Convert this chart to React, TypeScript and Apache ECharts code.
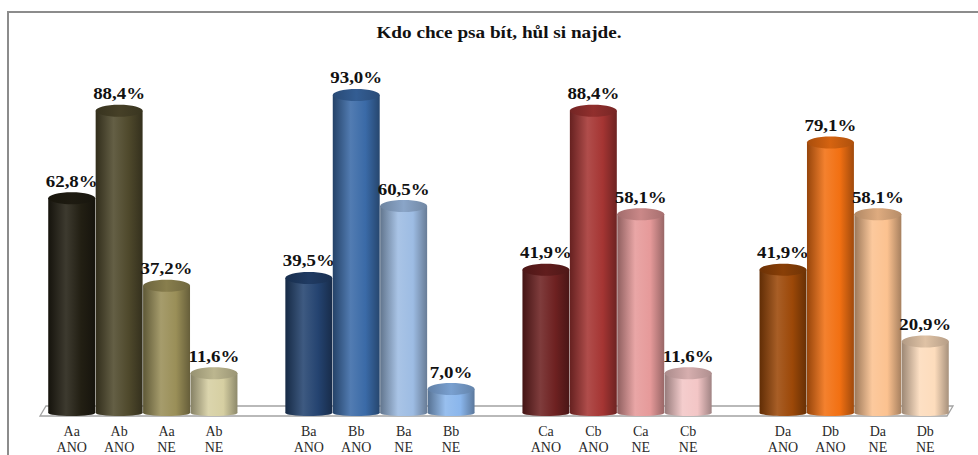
import React, { useEffect, useRef } from "react";
import * as echarts from "echarts";

// Slots along the x axis; empty strings are spacers between the four groups.
const categories: string[] = [
  "Aa\nANO", "Ab\nANO", "Aa\nNE", "Ab\nNE", "",
  "Ba\nANO", "Bb\nANO", "Ba\nNE", "Bb\nNE", "",
  "Ca\nANO", "Cb\nANO", "Ca\nNE", "Cb\nNE", "",
  "Da\nANO", "Db\nANO", "Da\nNE", "Db\nNE",
];

// Percentages per slot (null = spacer).
const values: (number | null)[] = [
  62.8, 88.4, 37.2, 11.6, null,
  39.5, 93.0, 60.5, 7.0, null,
  41.9, 88.4, 58.1, 11.6, null,
  41.9, 79.1, 58.1, 20.9,
];

const barColors: string[] = [
  "#221f13", "#4f492c", "#9a8f58", "#d6cfa2", "#ffffff",
  "#244370", "#3a6aa7", "#9dbce3", "#8ab6ec", "#ffffff",
  "#6e2121", "#a53533", "#e69a9a", "#f3c6c6", "#ffffff",
  "#9c4808", "#f27012", "#fcc290", "#fddcbc",
];

const TITLE = "Kdo chce psa bít, hůl si najde.";
const SERIF = "'Liberation Serif', 'Times New Roman', serif";

function shade(hex: string, f: number): string {
  const n = parseInt(hex.slice(1), 16);
  let r = (n >> 16) & 255, g = (n >> 8) & 255, b = n & 255;
  if (f <= 1) {
    r = r * f; g = g * f; b = b * f;
  } else {
    const t = f - 1;
    r = r + (255 - r) * t; g = g + (255 - g) * t; b = b + (255 - b) * t;
  }
  const c = (v: number) => Math.max(0, Math.min(255, Math.round(v))).toString(16).padStart(2, "0");
  return "#" + c(r) + c(g) + c(b);
}

function bodyGradient(c: string) {
  return new echarts.graphic.LinearGradient(0, 0, 1, 0, [
    { offset: 0, color: shade(c, 0.62) },
    { offset: 0.38, color: shade(c, 1.12) },
    { offset: 0.7, color: c },
    { offset: 1, color: shade(c, 0.66) },
  ]);
}

function topGradient(c: string) {
  return new echarts.graphic.LinearGradient(0, 0, 1, 0, [
    { offset: 0, color: shade(c, 0.7) },
    { offset: 0.5, color: shade(c, 0.88) },
    { offset: 1, color: shade(c, 0.72) },
  ]);
}

const fmt = (v: number) => v.toFixed(1).replace(".", ",") + "%";

export default function App() {
  const ref = useRef<HTMLDivElement>(null);

  useEffect(() => {
    if (!ref.current) return;
    const chart = echarts.init(ref.current, undefined, { renderer: "svg" });

    const barData = values.map((v, i) => [i, v]);

    chart.setOption({
      animation: false,
      backgroundColor: "#ffffff",
      grid: { left: 48, right: 29, top: 71, bottom: 41, containLabel: false },
      xAxis: {
        type: "category",
        data: categories,
        axisLine: { show: false },
        axisTick: { show: false },
        axisLabel: {
          interval: 0,
          margin: 10,
          fontFamily: SERIF,
          fontSize: 14,
          lineHeight: 16,
          color: "#2a2a2a",
        },
        splitLine: { show: false },
      },
      yAxis: {
        type: "value",
        min: 0,
        max: 100,
        show: false,
      },
      graphic: [
        {
          type: "rect",
          shape: { x: 8, y: 12, width: 1000, height: 500 },
          style: { fill: "none", stroke: "#8c8c8c", lineWidth: 2 },
          z: 0,
        },
        {
          type: "text",
          x: 499,
          y: 33,
          scaleX: 1.2,
          style: {
            text: TITLE,
            font: `bold 16px ${SERIF}`,
            fill: "#111111",
            align: "center",
            verticalAlign: "middle",
          },
        },
      ],
      series: [
        {
          // floor plane under the cylinders
          type: "custom",
          z: 1,
          silent: true,
          data: [[0]],
          renderItem: (params: any) => {
            const cs = params.coordSys;
            const base = cs.y + cs.height;
            const l = cs.x, r = cs.x + cs.width;
            return {
              type: "polygon",
              shape: {
                points: [
                  [l - 8, base + 3],
                  [l - 2, base - 7],
                  [r + 4, base - 7],
                  [r - 2, base + 3],
                ],
              },
              style: { fill: "#ffffff", stroke: "#a3a3a3", lineWidth: 1.3 },
            };
          },
        },
        {
          type: "custom",
          z: 2,
          data: barData,
          encode: { x: 0, y: 1 },
          renderItem: (params: any, api: any) => {
            const v = api.value(1);
            if (v === null || v === undefined || isNaN(v)) return null;
            const i = api.value(0);
            const top = api.coord([i, v]);
            const base = api.coord([i, 0]);
            const bw = api.size([1, 0])[0] * 0.99;
            const cx = top[0];
            const x0 = cx - bw / 2;
            const rx = bw / 2;
            const ryTop = 6;
            const ryBot = 3;
            const c = barColors[params.dataIndex];
            return {
              type: "group",
              children: [
                {
                  type: "ellipse",
                  shape: { cx, cy: base[1], rx, ry: ryBot },
                  style: { fill: bodyGradient(c) },
                },
                {
                  type: "rect",
                  shape: { x: x0, y: top[1], width: bw, height: base[1] - top[1] },
                  style: { fill: bodyGradient(c) },
                },
                {
                  type: "ellipse",
                  shape: { cx, cy: top[1], rx, ry: ryTop },
                  style: { fill: topGradient(c) },
                },
                {
                  type: "text",
                  x: cx,
                  y: top[1] - 17,
                  scaleX: 1.18,
                  style: {
                    text: fmt(v),
                    font: `bold 16px ${SERIF}`,
                    fill: "#111111",
                    align: "center",
                    verticalAlign: "middle",
                  },
                },
              ],
            };
          },
        },
      ],
    });

    return () => chart.dispose();
  }, []);

  return (
    <div
      ref={ref}
      style={{ position: "absolute", left: 0, top: 0, width: 978, height: 455 }}
    />
  );
}
